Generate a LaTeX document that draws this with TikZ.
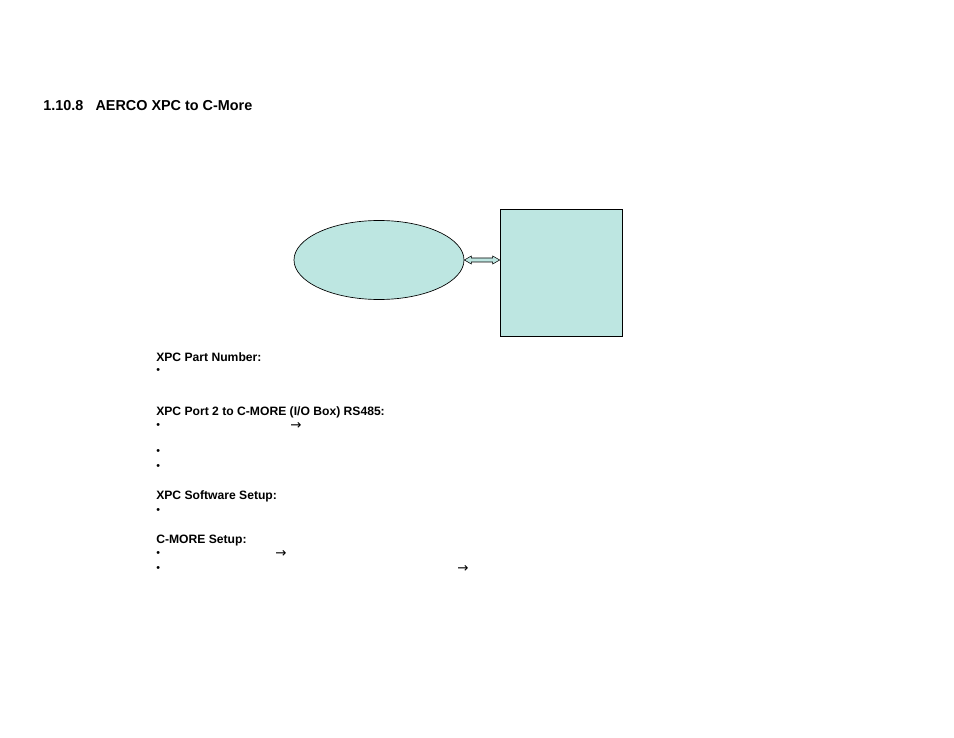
\documentclass[tikz,border=0pt]{standalone}
\usepackage{fontspec}
\setmainfont{Liberation Sans}
\newfontfamily\arrowfont{DejaVu Sans}
\usepackage{tikz}
\usetikzlibrary{calc}
\usetikzlibrary{shapes.geometric}
\usepackage{xcolor}
\definecolor{panelfill}{RGB}{189,230,225}
\tikzstyle{heading}=[anchor=west,inner sep=0,font=\fontsize{9.1}{10}\selectfont\bfseries]
\tikzstyle{bullet}=[anchor=west,inner sep=0,font=\fontsize{8}{9}\selectfont]
\tikzstyle{pointer}=[anchor=west,inner sep=0,font=\fontsize{10}{11}\selectfont\arrowfont]

\begin{document}
\begin{tikzpicture}[x=0.75pt, y=-0.75pt]
\useasboundingbox (0,0) rectangle (954,738);

\node [anchor=base west,inner sep=0,font=\fontsize{10.8}{12}\selectfont\bfseries] (title) at (43,111) {1.10.8\hspace{0.85em}AERCO XPC to C-More};

% laitteet
\node [ellipse,draw,fill=panelfill,line width=0.5pt,minimum width=127.5pt,minimum height=59.25pt,inner sep=0] (xpc) at (379,260) {};
\node [rectangle,draw,fill=panelfill,line width=0.5pt,minimum width=91.5pt,minimum height=95.25pt,inner sep=0] (cmore) at (561,272.5) {};

% kaksisuuntainen nuoli
\coordinate (tip) at (cmore.west |- xpc.east);
\draw [fill=panelfill,line width=0.4pt] (xpc.east) -- ++(7,-4) -- ++(0,2) -- ($(tip)+(-7,-2)$) -- ++(0,-2) -- (tip)
  -- ++(-7,4) -- ++(0,-2) -- ($(xpc.east)+(7,2)$) -- ++(0,2) -- cycle;

\foreach \y/\t [count=\i] in {357/{XPC Part Number:}, 412/{XPC Port 2 to C-MORE (I{/}O Box) RS485:}, 496/{XPC Software Setup:}, 541/{C-MORE Setup:}}
  \node [heading] (head-\i) at (156,\y) {\t};

\foreach \y [count=\i] in {371.5,426.5,452.5,467.5,511.5,554.5,569.5}
  \node [bullet] (dot-\i) at (156,\y) {\textbullet};

\foreach \x/\y/\i in {290/426/2, 275/554/6, 457/569/7}
  \node [pointer] (arrow-\i) at (\x,\y) {→};

\end{tikzpicture}
\end{document}
